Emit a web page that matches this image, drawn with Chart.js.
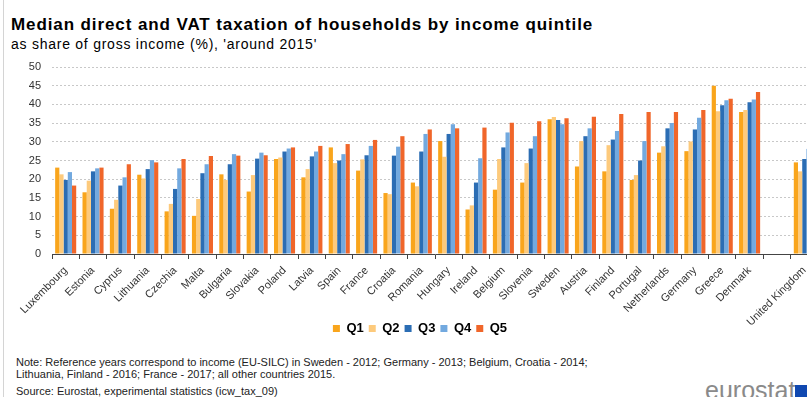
<!DOCTYPE html>
<html>
<head>
<meta charset="utf-8">
<script src="https://cdn.jsdelivr.net/npm/chart.js@4.4.0/dist/chart.umd.min.js"></script>
<style>
    body {
        margin: 0;
        width: 807px;
        height: 397px;
        overflow: hidden;
        position: relative;
        background: #fff;
        font-family: "Liberation Sans", Arial, sans-serif;
    }
    #edge { position: absolute; left: 3px; top: 0; width: 1px; height: 397px; background: #d4d4d4; }
    #title { position: absolute; left: 11px; top: 16px; font-size: 17px; line-height: 17px; font-weight: bold; letter-spacing: 0.9px; color: #000; white-space: nowrap; }
    #subtitle { position: absolute; left: 11px; top: 37px; font-size: 14px; line-height: 14px; letter-spacing: 0.75px; color: #000; white-space: nowrap; }
    #tax-chart { position: absolute; left: 0; top: 55px; }
    .note { position: absolute; left: 16px; font-size: 11px; line-height: 11px; color: #222; white-space: nowrap; }
    #logo { position: absolute; left: 705px; top: 378px; font-size: 25px; line-height: 25px; color: #8a8a8a; }
    #flag { position: absolute; left: 795px; top: 385px; width: 14px; height: 14px; background: #1048b0; }
</style>
</head>
<body>
<div id="edge"></div>
<div id="title">Median direct and VAT taxation of households by income quintile</div>
<div id="subtitle">as share of gross income (%), 'around 2015'</div>
<canvas id="tax-chart" width="818" height="290"></canvas>
<div class="note" style="top: 357px;">Note: Reference years correspond to income (EU-SILC) in Sweden - 2012; Germany - 2013; Belgium, Croatia - 2014;</div>
<div class="note" style="top: 369px;">Lithuania, Finland - 2016; France - 2017; all other countries 2015.</div>
<div class="note" style="top: 386px;">Source: Eurostat, experimental statistics (icw_tax_09)</div>
<div id="logo">eurostat</div>
<div id="flag"></div>
<script>
// Countries sorted by Q5, the empty slot separates the UK
const countries = ['Luxembourg', 'Estonia', 'Cyprus', 'Lithuania', 'Czechia', 'Malta', 'Bulgaria', 'Slovakia',
    'Poland', 'Latvia', 'Spain', 'France', 'Croatia', 'Romania', 'Hungary', 'Ireland', 'Belgium', 'Slovenia',
    'Sweden', 'Austria', 'Finland', 'Portugal', 'Netherlands', 'Germany', 'Greece', 'Denmark', '', 'United Kingdom'];

const q1 = [23.1, 16.5, 12.1, 21.2, 11.4, 10.2, 21.3, 16.7, 25.4, 20.5, 28.5, 22.3, 16.3, 19.1,
    30.2, 11.9, 17.2, 19.1, 36.0, 23.4, 22.1, 19.8, 27.1, 27.5, 45.0, 38.0, null, 24.5];
const q2 = [21.3, 19.6, 14.5, 20.2, 13.4, 14.7, 19.8, 21.1, 25.8, 22.7, 24.3, 25.3, 16.0, 18.1,
    26.0, 13.0, 25.4, 24.3, 36.6, 30.2, 29.1, 21.1, 28.8, 30.1, 38.2, 38.5, null, 22.1];
const q3 = [19.8, 22.1, 18.3, 22.7, 17.4, 21.6, 24.0, 25.5, 27.4, 26.1, 25.0, 26.4, 26.3, 27.4,
    32.1, 19.1, 28.5, 28.2, 35.8, 31.5, 30.6, 25.0, 33.6, 33.3, 39.8, 40.6, null, 25.4];
const q4 = [21.9, 22.9, 20.5, 25.1, 22.9, 24.0, 26.7, 27.1, 28.2, 27.4, 26.7, 28.9, 28.7, 32.1,
    34.7, 25.6, 32.5, 31.5, 34.7, 33.6, 32.9, 30.2, 35.0, 36.4, 41.1, 41.3, null, 28.1];
const q5 = [18.3, 23.1, 24.0, 24.5, 25.4, 26.2, 26.3, 26.4, 28.5, 28.9, 29.4, 30.5, 31.5, 33.3,
    33.6, 33.8, 35.1, 35.5, 36.3, 36.7, 37.4, 38.0, 38.0, 38.5, 41.5, 43.3, null, 31.0];

const quintiles = ['Q1', 'Q2', 'Q3', 'Q4', 'Q5'];
const colors = ['#f9a51c', '#fdca7c', '#2b6db4', '#72a9df', '#f0662a'];
const yTicks = { min: 0, max: 50, step: 5 };

const fontFamily = '"Liberation Sans", Arial, sans-serif';

const datasets = [q1, q2, q3, q4, q5].map(function (values, i) {
    return {
        label: quintiles[i],
        data: values,
        backgroundColor: colors[i],
        borderWidth: 0
    };
});

const ctx = document.getElementById('tax-chart').getContext('2d');
new Chart(ctx, {
    type: 'bar',
    data: { labels: countries, datasets: datasets },
    options: {
        responsive: false,
        animation: false,
        layout: { padding: { left: 22, right: 0, top: 12, bottom: 0 } },
        datasets: { bar: { categoryPercentage: 0.77, barPercentage: 1.0 } },
        plugins: {
            tooltip: { enabled: false },
            legend: {
                position: 'bottom',
                labels: {
                    boxWidth: 7,
                    boxHeight: 7,
                    padding: 5,
                    color: '#000',
                    font: { family: fontFamily, size: 13, weight: 'bold' }
                }
            }
        },
        scales: {
            x: {
                grid: { drawOnChartArea: false, drawTicks: true, tickLength: 5, color: '#444', offset: true },
                border: { display: true, color: '#444' },
                ticks: {
                    autoSkip: false,
                    maxRotation: 45,
                    minRotation: 45,
                    padding: 5,
                    color: '#333',
                    font: { family: fontFamily, size: 11 }
                },
                afterFit: function (scale) {
                    scale.paddingLeft = 0;
                    scale.paddingRight = 0;
                    scale.height = 63;
                    // long rotated labels may run into the legend band, so don't clip them
                    scale._computeLabelArea = function () { return undefined; };
                }
            },
            y: {
                min: yTicks.min,
                max: yTicks.max,
                grid: {
                    drawTicks: false,
                    color: function (c) { return c.tick && c.tick.value === 0 ? 'rgba(0,0,0,0)' : '#c8c8c8'; }
                },
                border: { display: false, dash: [2, 2] },
                ticks: {
                    stepSize: yTicks.step,
                    padding: 11,
                    color: '#333',
                    font: { family: fontFamily, size: 11 }
                },
                afterFit: function (scale) {
                    scale.width = 30;
                    scale.paddingTop = 0;
                    scale.paddingBottom = 0;
                }
            }
        }
    }
});
</script>
</body>
</html>
